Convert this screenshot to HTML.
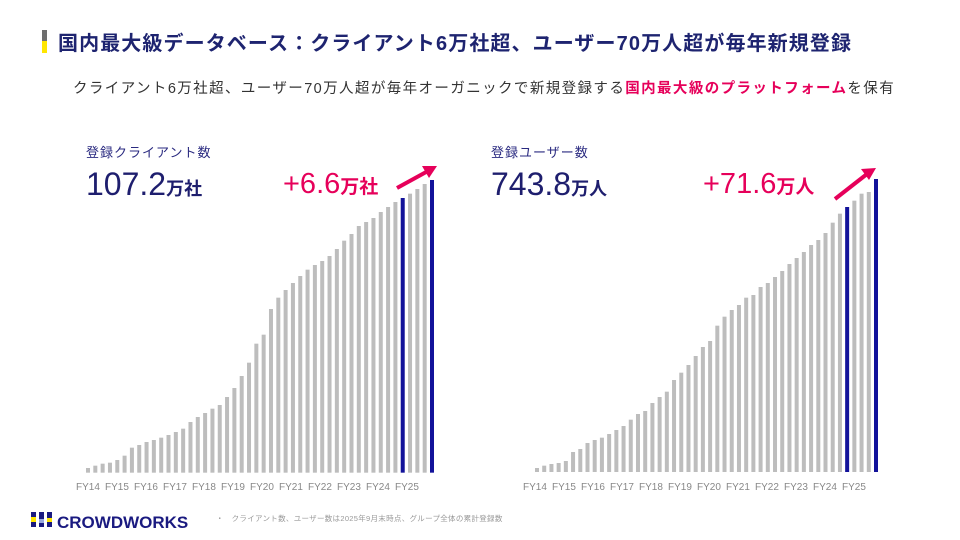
<!DOCTYPE html>
<html><head><meta charset="utf-8"><style>
body{margin:0;width:960px;height:540px;background:#fff;overflow:hidden;font-family:"Liberation Sans","Noto Sans CJK JP",sans-serif;}
</style></head><body>
<svg width="960" height="540" xmlns="http://www.w3.org/2000/svg" style="position:absolute;left:0;top:0;font-family:'Liberation Sans','Noto Sans CJK JP',sans-serif">
<rect x="42" y="30" width="5" height="11" fill="#6e6e6e"/>
<rect x="42" y="41" width="5" height="12" fill="#ffe600"/>
<text x="58" y="50" font-size="20" font-weight="bold" fill="#1e2470" letter-spacing="1.1">国内最大級データベース：クライアント6万社超、ユーザー70万人超が毎年新規登録</text>
<text x="73" y="93" font-size="14.5" fill="#333" letter-spacing="1.4">クライアント6万社超、ユーザー70万人超が毎年オーガニックで新規登録する<tspan fill="#e6005a" font-weight="bold">国内最大級のプラットフォーム</tspan>を保有</text>
<text x="86" y="157" font-size="13" fill="#2a2a80" letter-spacing="1">登録クライアント数</text>
<text x="86" y="195" font-size="32" fill="#1e1e6e">107.2<tspan font-size="18" font-weight="bold">万社</tspan></text>
<text x="283" y="193" font-size="29" fill="#e6005a">+6.6<tspan font-size="19" font-weight="bold">万社</tspan></text>
<text x="491" y="157" font-size="13" fill="#2a2a80" letter-spacing="1">登録ユーザー数</text>
<text x="491" y="195" font-size="32" fill="#1e1e6e">743.8<tspan font-size="18" font-weight="bold">万人</tspan></text>
<text x="703" y="193" font-size="29" fill="#e6005a">+71.6<tspan font-size="19" font-weight="bold">万人</tspan></text>
<g stroke="#e6005a" stroke-width="4" fill="#e6005a">
<line x1="397" y1="188" x2="428" y2="171"/>
<polygon points="437,166 422,166 429,178" stroke="none"/>
<line x1="835" y1="199" x2="867" y2="174"/>
<polygon points="876,168 861,169 869,180" stroke="none"/>
</g>
<g id="bars"></g>
<g font-size="10" fill="#888">
<text x="76" y="490">FY14</text><text x="105" y="490">FY15</text><text x="134" y="490">FY16</text><text x="163" y="490">FY17</text><text x="192" y="490">FY18</text><text x="221" y="490">FY19</text><text x="250" y="490">FY20</text><text x="279" y="490">FY21</text><text x="308" y="490">FY22</text><text x="337" y="490">FY23</text><text x="366" y="490">FY24</text><text x="395" y="490">FY25</text>
<text x="523" y="490">FY14</text><text x="552" y="490">FY15</text><text x="581" y="490">FY16</text><text x="610" y="490">FY17</text><text x="639" y="490">FY18</text><text x="668" y="490">FY19</text><text x="697" y="490">FY20</text><text x="726" y="490">FY21</text><text x="755" y="490">FY22</text><text x="784" y="490">FY23</text><text x="813" y="490">FY24</text><text x="842" y="490">FY25</text>
</g>
<g>
<rect x="31" y="512" width="5" height="15" fill="#1a1a80"/><rect x="31" y="517" width="5" height="5" fill="#ffe600"/>
<rect x="39" y="512" width="5" height="15" fill="#1a1a80"/><rect x="39" y="519" width="5" height="4" fill="#9ad"/>
<rect x="47" y="512" width="5" height="15" fill="#1a1a80"/><rect x="47" y="518" width="5" height="4" fill="#ffe600"/>
<text x="57" y="528" font-size="17" font-weight="bold" fill="#1a1a80">CROWDWORKS</text>
</g>
<text x="216" y="521" font-size="7.5" fill="#999" letter-spacing="0.3">・　クライアント数、ユーザー数は2025年9月末時点、グループ全体の累計登録数</text>
</svg>
<script>
var L=[924,917,911,908,900,887,863,855,846,840,833,825,816,806,786,771,759,746,735,711,684,648,608,551,524,447,413,390,369,348,329,315,303,288,267,242,222,198,186,174,156,141,126,114,101,87,72,60];
var R=[924,917,912,909,903,876,867,849,840,833,822,810,798,779,762,753,729,711,695,660,638,615,588,561,543,497,470,450,435,413,405,381,369,351,333,312,294,276,255,240,219,188,161,141,122,101,96,57];
var g=document.getElementById('bars'),s='';
function draw(a,x0,x1,base0){var n=a.length,st=(x1-x0)/(n-1);for(var i=0;i<n;i++){var top=160+a[i]/3,base=160+base0/3;var c=(i==43||i==47)?'#12129a':'#bdbdbd';s+='<rect x="'+(x0+i*st-2).toFixed(2)+'" y="'+top.toFixed(2)+'" width="4" height="'+(base-top).toFixed(2)+'" fill="'+c+'"/>';}}
draw(L,88,432,938);draw(R,537,876,936);
g.innerHTML=s;
</script>
</body></html>
